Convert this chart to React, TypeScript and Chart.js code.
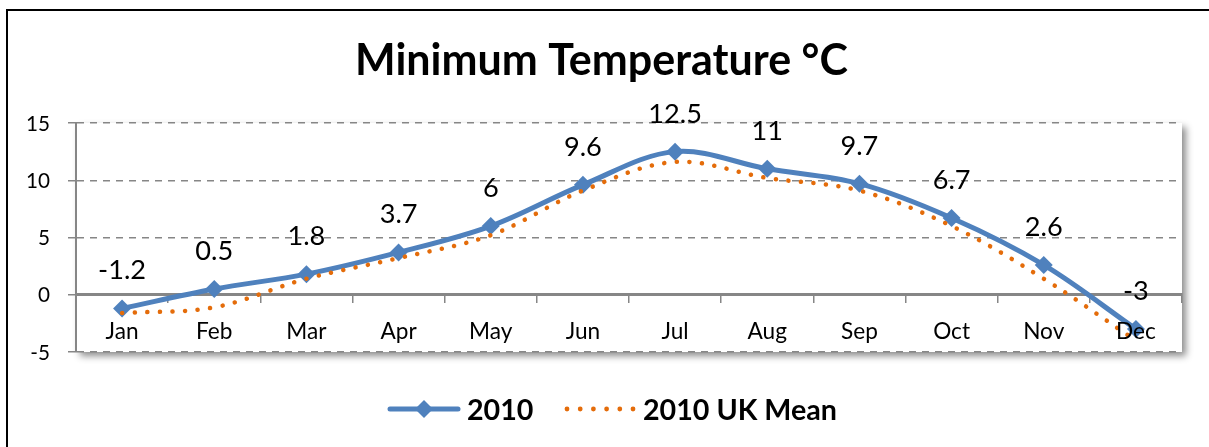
import React, { useEffect, useRef } from "react";
import { Chart, registerables } from "chart.js";

Chart.register(...registerables);

const months = ["Jan", "Feb", "Mar", "Apr", "May", "Jun", "Jul", "Aug", "Sep", "Oct", "Nov", "Dec"];
const temps2010 = [-1.2, 0.5, 1.8, 3.7, 6, 9.6, 12.5, 11, 9.7, 6.7, 2.6, -3];
const ukMean2010 = [-1.6, -1.1, 1.4, 3.2, 5.2, 9.1, 11.6, 10.2, 9.1, 6.0, 1.4, -4.0];
const yTickValues = [-5, 0, 5, 10, 15];
const chartTitle = "Minimum Temperature °C";
const seriesNames = ["2010", "2010 UK Mean"];

const BLUE = "#4F81BD";
const ORANGE = "#E46C0A";
const GRID = "#868686";
const FONT = 'Lato, "Open Sans", sans-serif';

function fitSize(ctx: CanvasRenderingContext2D, text: string, weight: string, target: number) {
  ctx.font = `${weight} 100px ${FONT}`;
  const w = ctx.measureText(text).width;
  return (100 * target) / w;
}

const decor = {
  id: "decor",
  beforeDraw(chart: any) {
    const { ctx, chartArea: a, width, height } = chart;
    ctx.save();
    ctx.fillStyle = "#fff";
    ctx.fillRect(0, 0, width, height);
    ctx.strokeStyle = "#000";
    ctx.lineWidth = 2;
    ctx.beginPath();
    ctx.moveTo(7, height + 4);
    ctx.lineTo(7, 10);
    ctx.lineTo(width + 4, 10);
    ctx.stroke();
    ctx.shadowColor = "rgba(0,0,0,0.45)";
    ctx.shadowBlur = 7;
    ctx.shadowOffsetX = 4;
    ctx.shadowOffsetY = 4;
    ctx.fillStyle = "#fff";
    ctx.fillRect(a.left, a.top, a.right - a.left, a.bottom - a.top);
    ctx.restore();
  },
  afterDraw(chart: any) {
    const { ctx } = chart;
    const xs = chart.scales.x;
    const ys = chart.scales.y;
    ctx.save();
    ctx.fillStyle = "#000";

    // title
    const tSize = fitSize(ctx, chartTitle, "bold", 493);
    ctx.font = `bold ${tSize}px ${FONT}`;
    ctx.textAlign = "center";
    ctx.textBaseline = "alphabetic";
    ctx.fillText(chartTitle, 601.5, 75);

    // y tick labels
    const ySize = fitSize(ctx, "15", "normal", 24);
    ctx.font = `normal ${ySize}px ${FONT}`;
    ctx.textAlign = "right";
    yTickValues.forEach((v) => {
      ctx.fillText(String(v), ys.left + ys.width - 26, ys.getPixelForValue(v) + 7.5);
    });

    // x labels
    const xSize = fitSize(ctx, "Jan", "normal", 33);
    ctx.font = `normal ${xSize}px ${FONT}`;
    ctx.textAlign = "center";
    const zeroY = ys.getPixelForValue(0);
    months.forEach((m, i) => {
      ctx.fillText(m, xs.getPixelForValue(i), zeroY + 44);
    });

    // data labels
    const dSize = fitSize(ctx, "-1.2", "normal", 48);
    ctx.font = `normal ${dSize}px ${FONT}`;
    temps2010.forEach((v, i) => {
      ctx.fillText(String(v), xs.getPixelForValue(i), ys.getPixelForValue(v) - 29);
    });

    // legend
    const lSize = fitSize(ctx, seriesNames[1], "bold", 194);
    const ly = 409;
    ctx.strokeStyle = BLUE;
    ctx.lineWidth = 5;
    ctx.lineCap = "round";
    ctx.beginPath();
    ctx.moveTo(390, ly);
    ctx.lineTo(458, ly);
    ctx.stroke();
    ctx.fillStyle = BLUE;
    ctx.beginPath();
    ctx.moveTo(424 - 9, ly);
    ctx.lineTo(424, ly - 9);
    ctx.lineTo(424 + 9, ly);
    ctx.lineTo(424, ly + 9);
    ctx.closePath();
    ctx.fill();
    ctx.fillStyle = ORANGE;
    for (let k = 0; k < 6; k++) {
      ctx.beginPath();
      ctx.arc(567 + k * 13.2, ly, 2.4, 0, Math.PI * 2);
      ctx.fill();
    }
    ctx.fillStyle = "#000";
    ctx.font = `bold ${lSize}px ${FONT}`;
    ctx.textAlign = "left";
    ctx.fillText(seriesNames[0], 467, 420);
    ctx.fillText(seriesNames[1], 643, 420);
    ctx.restore();
  },
};

export default function App() {
  const ref = useRef<HTMLCanvasElement>(null);
  useEffect(() => {
    if (!ref.current) return;
    const chart = new Chart(ref.current, {
      type: "line",
      data: {
        labels: months,
        datasets: [
          {
            label: seriesNames[0],
            data: temps2010,
            borderColor: BLUE,
            backgroundColor: BLUE,
            borderWidth: 5,
            tension: 0.35,
            pointStyle: "rectRot",
            pointRadius: 9,
            pointBorderWidth: 0,
            pointBackgroundColor: BLUE,
            order: 1,
          },
          {
            label: seriesNames[1],
            data: ukMean2010,
            borderColor: ORANGE,
            backgroundColor: ORANGE,
            borderWidth: 4.5,
            borderDash: [0.1, 12.5],
            borderCapStyle: "round",
            tension: 0.35,
            pointRadius: 0,
            order: 0,
          },
        ],
      },
      options: {
        responsive: false,
        animation: false,
        layout: { padding: { left: 26, top: 123, right: 27, bottom: 95 } },
        plugins: {
          legend: { display: false },
          title: { display: false },
          tooltip: { enabled: false },
        },
        scales: {
          x: {
            type: "category",
            offset: true,
            position: { y: 0 } as any,
            grid: {
              display: true,
              drawOnChartArea: false,
              drawTicks: true,
              tickLength: 7,
              offset: true,
              color: GRID,
              lineWidth: 1.5,
            },
            border: { display: true, color: GRID, width: 3 },
            ticks: { display: false },
          },
          y: {
            min: -5,
            max: 15,
            ticks: { display: false, stepSize: 5 },
            grid: { color: GRID, lineWidth: 1.5, drawTicks: true, tickLength: 8 },
            border: { display: true, color: GRID, width: 2, dash: [7, 6] },
            afterFit: (s: any) => {
              s.width = 50;
            },
          },
        },
      },
      plugins: [decor],
    });
    return () => chart.destroy();
  }, []);
  return (
    <div style={{ position: "fixed", left: 0, top: 0, width: 1209, height: 447 }}>
      <canvas ref={ref} width={1209} height={447} style={{ display: "block" }} />
    </div>
  );
}
